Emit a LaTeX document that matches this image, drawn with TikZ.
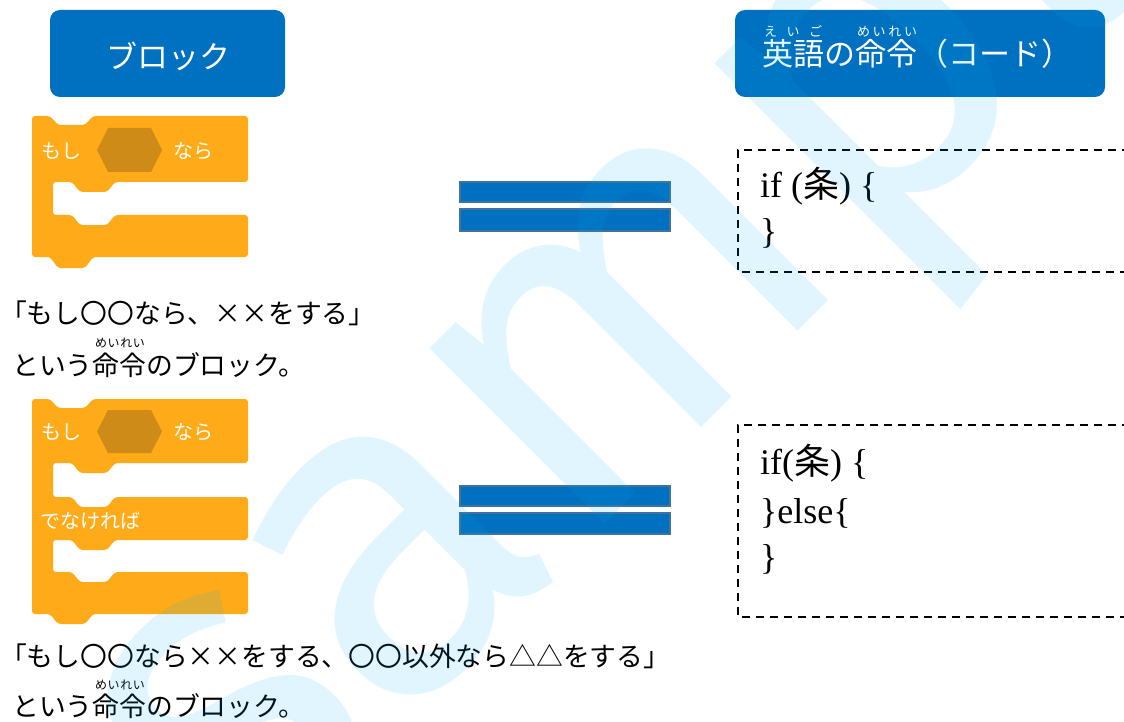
\documentclass[tikz,border=0pt]{standalone}
\usepackage{fontspec}
\setmainfont{Liberation Serif}
\newfontfamily\jp{Noto Sans CJK JP}
\newfontfamily\wmfont{Fira Sans}
\definecolor{hdrblue}{HTML}{0070C0}
\definecolor{blkorange}{HTML}{FFAB19}
\definecolor{hexdark}{HTML}{CF8B17}
\definecolor{barline}{HTML}{41719C}
\definecolor{wmblue}{RGB}{0,176,240}
\begin{document}
\begin{tikzpicture}[x=1pt,y=-1pt,
  hdrbox/.style={fill=hdrblue, rounded corners=10pt, draw=none, inner sep=0},
  hdrtext/.style={text=white, font=\jp\fontsize{31}{31}\selectfont, inner sep=0},
  rubytext/.style={text=white, font=\jp\fontsize{13}{13}\selectfont, inner sep=0},
  blockfill/.style={fill=blkorange, rounded corners=3pt},
  hexfill/.style={fill=hexdark},
  blktext/.style={text=white, font=\jp\fontsize{20}{20}\selectfont, inner sep=0},
  eqbar/.style={fill=hdrblue, draw=barline, line width=1.2pt},
  codebox/.style={draw=black, line width=1.5pt, dash pattern=on 8pt off 6pt},
  code/.style={font=\fontsize{36}{36}\selectfont, inner sep=0, text=black},
  caption/.style={font=\jp\fontsize{26.8}{27}\selectfont, inner sep=0, text=black},
  capruby/.style={font=\jp\fontsize{12}{12}\selectfont, inner sep=0, text=black},
  wmark/.style={font=\wmfont\fontsize{470}{470}\selectfont, text=wmblue, text opacity=0.12, inner sep=0}
]
\useasboundingbox (0,0) rectangle (1124,722);
\clip (0,0) rectangle (1124,722);
\fill[white] (0,0) rectangle (1124,722);

% headers
\node[hdrbox, minimum width=235pt, minimum height=87pt] (h1) at (167.5,53.5) {};
\node[hdrtext] (h1t) at (168,56) {ブロック};
\node[hdrbox, minimum width=370pt, minimum height=87pt] (h2) at (920,53.5) {};
\node[hdrtext, anchor=base west] (h2t) at (762,66) {英語の命令（コード）};
\node[rubytext, anchor=base] (h2r1) at (793,37) {\makebox[58pt]{え\hfill い\hfill ご}};
\node[rubytext, anchor=base] (h2r2) at (887,37) {\makebox[60pt]{め\hfill い\hfill れ\hfill い}};

% block 1
\fill[blockfill] (32,116) -- (50,116) -- (58,125) -- (85,125) -- (93,116) -- (248,116)
  -- (248,182) -- (115,182) -- (107,192) -- (80,192) -- (72,182) -- (53,182)
  -- (53,215) -- (72,215) -- (80,225) -- (107,225) -- (115,215) -- (248,215)
  -- (248,257) -- (93,257) -- (85,268) -- (58,268) -- (50,257) -- (32,257) -- cycle;
\fill[hexfill] (97,150) -- (108,128) -- (151,128) -- (162,150) -- (151,172) -- (108,172) -- cycle;
\node[blktext] (b1a) at (61,151) {もし};
\node[blktext] (b1b) at (193,151) {なら};

% block 2
\fill[blockfill] (32,399) -- (50,399) -- (58,408) -- (85,408) -- (93,399) -- (248,399)
  -- (248,463) -- (115,463) -- (107,473) -- (80,473) -- (72,463) -- (53,463)
  -- (53,497) -- (72,497) -- (80,507) -- (107,507) -- (115,497) -- (248,497)
  -- (248,540) -- (115,540) -- (107,550) -- (80,550) -- (72,540) -- (53,540)
  -- (53,572) -- (72,572) -- (80,582) -- (107,582) -- (115,572) -- (248,572)
  -- (248,614) -- (93,614) -- (85,624) -- (58,624) -- (50,614) -- (32,614) -- cycle;
\fill[hexfill] (97,431.5) -- (108,410) -- (151,410) -- (162,431.5) -- (151,453) -- (108,453) -- cycle;
\node[blktext] (b2a) at (61,432) {もし};
\node[blktext] (b2b) at (193,432) {なら};
\node[blktext, anchor=west] (b2c) at (40,521) {でなければ};

% captions
\node[caption, anchor=base west] (cap1a) at (0,323) {「もし〇〇なら、××をする」};
\node[caption, anchor=base west] (cap1b) at (12,375) {という命令のブロック。};
\node[capruby, anchor=base] (cap1r) at (120,347) {\makebox[50pt]{め\hfill い\hfill れ\hfill い}};
\node[caption, anchor=base west] (cap2a) at (0,666) {「もし〇〇なら××をする、〇〇以外なら△△をする」};
\node[caption, anchor=base west] (cap2b) at (12,716) {という命令のブロック。};
\node[capruby, anchor=base] (cap2r) at (120,689) {\makebox[50pt]{め\hfill い\hfill れ\hfill い}};

% equal signs
\draw[eqbar] (460,182) rectangle (670,202);
\draw[eqbar] (460,209) rectangle (670,231);
\draw[eqbar] (460,486) rectangle (670,506);
\draw[eqbar] (460,513) rectangle (670,534);

% code boxes
\draw[codebox] (1130,150) -- (738,150) -- (738,272) -- (1130,272);
\node[code, anchor=base west] (c1a) at (760,198) {if ({\jp 条}) \{};
\node[code, anchor=base west] (c1b) at (760,243) {\}};
\draw[codebox] (1130,425) -- (738,425) -- (738,617) -- (1130,617);
\node[code, anchor=base west] (c2a) at (760,474) {if({\jp 条}) \{};
\node[code, anchor=base west] (c2b) at (760,523) {\}else\{};
\node[code, anchor=base west] (c2c) at (760,569) {\}};

% watermark
\node[wmark, rotate=45] (wm) at (697,253) {sample};
\end{tikzpicture}
\end{document}
